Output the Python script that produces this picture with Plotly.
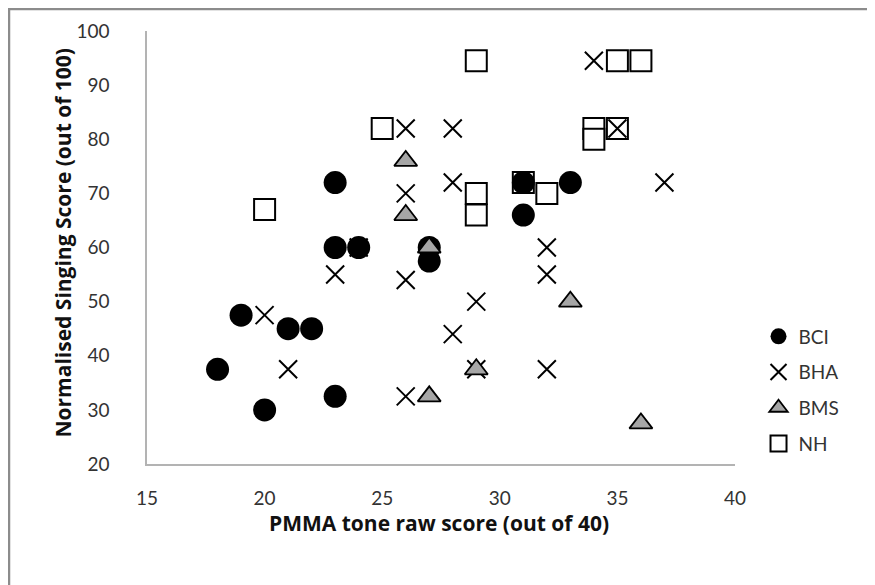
import plotly.graph_objects as go

# BCI
bci_x = [18, 19, 20, 21, 22, 23, 23, 23, 24, 27, 27, 31, 31, 33]
bci_y = [37.5, 47.5, 30, 45, 45, 72, 60, 32.5, 60, 60, 57.5, 72, 66, 72]

# BHA
bha_x = [20, 21, 23, 24, 26, 26, 26, 26, 28, 28, 28, 29, 29, 32, 32, 32, 34, 35, 37]
bha_y = [47.5, 37.5, 55, 60, 82, 70, 54, 32.5, 82, 72, 44, 50, 37.5, 60, 55, 37.5, 94.5, 82, 72]

# BMS
bms_x = [26, 26, 27, 27, 29, 33, 36]
bms_y = [76, 66, 60, 32.5, 37.5, 50, 27.5]

# NH
nh_x = [20, 25, 29, 29, 29, 31, 32, 34, 34, 35, 35, 36]
nh_y = [67, 82, 94.5, 70, 66, 72, 70, 82, 80, 82, 94.5, 94.5]

FONT = "Lato, 'Open Sans', sans-serif"
TFONT = "'Open Sans', Lato, sans-serif"

# page has an 8px body margin, so the figure is a bit smaller and shifted
W, H = 867, 577
L, T, R, B = 139, 23, 140, 121
PW, PH = W - L - R, H - T - B


def px_x(p):
    return (p - L) / PW


def px_y(p):
    return 1 - (p - T) / PH


fig = go.Figure()

# drawing order: NH, BHA, BCI, BMS (as the overlaps show)
fig.add_trace(go.Scatter(
    x=nh_x, y=nh_y, mode="markers", name="NH", legendrank=4,
    legendgroup="nh",
    marker=dict(symbol="square", size=21, color="white",
                line=dict(color="black", width=2))))
fig.add_trace(go.Scatter(
    x=bha_x, y=bha_y, mode="markers", name="BHA", legendrank=2,
    legendgroup="bha",
    marker=dict(symbol="x-thin-open", size=18, color="black",
                line=dict(color="black", width=2))))
fig.add_trace(go.Scatter(
    x=bci_x, y=bci_y, mode="markers", name="BCI", legendrank=1,
    legendgroup="bci",
    marker=dict(symbol="circle", size=23, color="black",
                line=dict(color="black", width=0))))
fig.add_trace(go.Scatter(
    x=bms_x, y=bms_y, mode="markers", name="BMS", legendrank=3,
    legendgroup="bms",
    marker=dict(symbol="triangle-up", size=20, color="#a6a6a6",
                line=dict(color="black", width=1.8))))

fig.update_xaxes(
    range=[15, 40],
    tickvals=[15, 20, 25, 30, 35, 40],
    showgrid=False, zeroline=False,
    showline=True, linecolor="#b3b3b3", linewidth=1.5,
    ticks="", ticklabelstandoff=16,
    tickfont=dict(size=19, color="#333333", family=FONT),
)
fig.update_yaxes(
    range=[20, 100],
    tickvals=[20, 30, 40, 50, 60, 70, 80, 90, 100],
    showgrid=False, zeroline=False,
    showline=True, linecolor="#b3b3b3", linewidth=1.5,
    ticks="", ticklabelstandoff=32,
    tickfont=dict(size=19, color="#333333", family=FONT),
)

fig.update_layout(
    width=W, height=H,
    margin=dict(l=L, r=R, t=T, b=B),
    plot_bgcolor="white", paper_bgcolor="white",
    font=dict(family=FONT, color="#333333"),
    showlegend=True,
    legend=dict(x=1.04, y=px_y(382), xanchor="left", yanchor="middle",
                font=dict(size=19, color="#333333", family=FONT),
                tracegroupgap=8, itemwidth=30,
                bgcolor="rgba(0,0,0,0)"),
    annotations=[
        dict(text="<b>PMMA tone raw score (out of 40)</b>",
             xref="paper", yref="paper", x=px_x(430.5), y=px_y(515),
             xanchor="center", yanchor="middle", showarrow=False,
             font=dict(size=21, color="#111111", family=TFONT)),
        dict(text="<b>Normalised Singing Score (out of 100)</b>",
             xref="paper", yref="paper", x=px_x(54), y=px_y(235.5),
             xanchor="center", yanchor="middle", showarrow=False,
             textangle=-90,
             font=dict(size=21, color="#111111", family=TFONT)),
    ],
    shapes=[dict(type="rect", xref="paper", yref="paper",
                 x0=px_x(1), x1=2.0,
                 y0=-1.0, y1=px_y(1),
                 line=dict(color="#8c8c8c", width=2.5),
                 fillcolor="rgba(0,0,0,0)", layer="below")],
)

fig.write_html("out.html")
